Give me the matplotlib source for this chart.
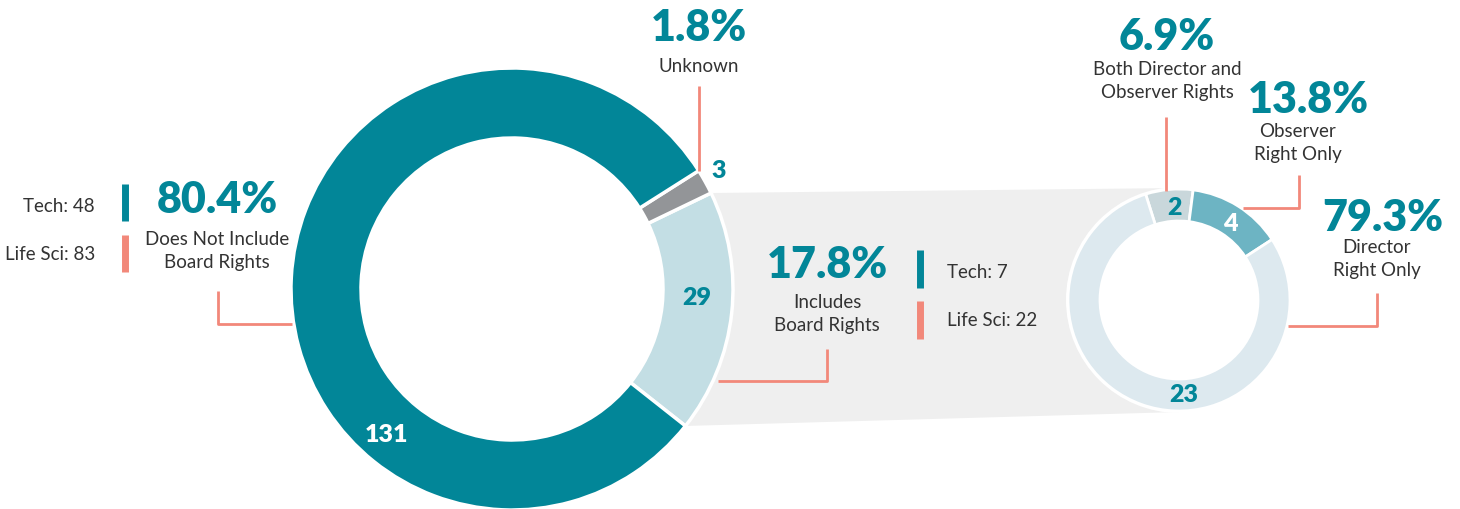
import numpy as np
import matplotlib.pyplot as plt
from matplotlib.patches import Polygon, Circle

# board rights split (count of deals)
main_labels = ["Includes\nBoard Rights", "Unknown", "Does Not Include\nBoard Rights"]
main_counts = [29, 3, 131]
main_colors = ["#c3dee4", "#939598", "#028698"]

# breakdown of deals that include board rights
sub_labels = ["Both Director and\nObserver Rights", "Observer\nRight Only", "Director\nRight Only"]
sub_counts = [2, 4, 23]
sub_colors = ["#c9d7db", "#6db4c3", "#dde9ef"]

# sector split
no_rights_sector = {"Tech": 48, "Life Sci": 83}
rights_sector = {"Tech": 7, "Life Sci": 22}

TEAL = "#028698"
SALMON = "#f2887a"
DARK = "#333333"
BAND = "#efefef"

plt.rcParams['font.family'] = ['Lato', 'DejaVu Sans']

W, H = 1460, 510
fig = plt.figure(figsize=(W / 100, H / 100), dpi=100)
ax = fig.add_axes([0, 0, 1, 1])


def Y(y):
    # work in top-down pixel rows
    return H - y


main_c = (512, Y(290))
main_r, main_w = 221, 70
sub_c = (1179, Y(301))
sub_r, sub_w = 111, 32
main_start = -38.3
sub_start = 107.5

main_total = sum(main_counts)
sub_total = sum(sub_counts)

# grey band linking the "includes" slice to the breakdown ring
a0 = np.deg2rad(main_start)
a1 = np.deg2rad(main_start + main_counts[0] / main_total * 360)
band = Polygon([
    (main_c[0] + main_r * np.cos(a1), main_c[1] + main_r * np.sin(a1)),
    (sub_c[0], sub_c[1] + sub_r + 1),
    (sub_c[0], sub_c[1] - sub_r - 1),
    (main_c[0] + main_r * np.cos(a0), main_c[1] + main_r * np.sin(a0)),
], closed=True, facecolor=BAND, edgecolor='none', zorder=0)
ax.add_patch(band)

ax.add_patch(Circle(sub_c, sub_r + 2, facecolor='white', edgecolor='none', zorder=1))

ax.pie(main_counts, colors=main_colors, center=main_c, radius=main_r,
       startangle=main_start, counterclock=True, frame=True,
       wedgeprops=dict(width=main_w, edgecolor='white', linewidth=2.5, zorder=2))
ax.pie(sub_counts, colors=sub_colors, center=sub_c, radius=sub_r,
       startangle=sub_start, counterclock=False, frame=True,
       wedgeprops=dict(width=sub_w, edgecolor='white', linewidth=2, zorder=2))

ax.set_xlim(0, W)
ax.set_ylim(0, H)
ax.set_aspect('equal')
ax.axis('off')


def pct(v, total):
    return f"{v / total * 100:.1f}%"


def big(x, y, s, ha='center'):
    ax.text(x, Y(y), s, ha=ha, va='center', fontsize=31, fontweight='heavy', color=TEAL)


def small(x, y, s, ha='center'):
    ax.text(x, Y(y), s, ha=ha, va='center', fontsize=13.5, color=DARK, linespacing=1.45)


def num(x, y, s, color=TEAL):
    ax.text(x, Y(y), s, ha='center', va='center', fontsize=18, fontweight='heavy', color=color, zorder=5)


def leader(pts):
    xs, ys = zip(*pts)
    ax.plot(xs, [Y(v) for v in ys], color=SALMON, lw=2, solid_capstyle='butt', zorder=4)


# does not include board rights
big(217, 200, pct(main_counts[2], main_total))
small(217, 251, main_labels[2])
leader([(218, 292), (218, 325), (292, 325)])
ax.plot([125, 125], [Y(185), Y(222)], color=TEAL, lw=5, solid_capstyle='butt')
ax.plot([125, 125], [Y(236), Y(273)], color=SALMON, lw=5, solid_capstyle='butt')
small(95, 207, f"Tech: {no_rights_sector['Tech']}", ha='right')
small(95, 254, f"Life Sci: {no_rights_sector['Life Sci']}", ha='right')

# unknown
big(699, 28, pct(main_counts[1], main_total))
small(699, 67, main_labels[1])
leader([(699, 87), (699, 172)])

# includes board rights
big(827, 265, pct(main_counts[0], main_total))
small(827, 314, main_labels[0])
leader([(718, 382), (827, 382), (827, 350)])
ax.plot([920, 920], [Y(251), Y(289)], color=TEAL, lw=5, solid_capstyle='butt')
ax.plot([920, 920], [Y(302), Y(340)], color=SALMON, lw=5, solid_capstyle='butt')
small(947, 273, f"Tech: {rights_sector['Tech']}", ha='left')
small(947, 320, f"Life Sci: {rights_sector['Life Sci']}", ha='left')

# ring counts
num(719, 171, str(main_counts[1]))
num(697, 298, str(main_counts[0]))
num(386, 435, str(main_counts[2]), color='white')
num(1174, 208, str(sub_counts[0]))
num(1230, 224, str(sub_counts[1]), color='white')
num(1184, 395, str(sub_counts[2]))

# breakdown labels
big(1167, 37, pct(sub_counts[0], sub_total))
small(1167, 81, sub_labels[0])
leader([(1166, 118), (1166, 192)])

big(1308, 100, pct(sub_counts[1], sub_total))
small(1298, 143, sub_labels[1])
leader([(1243, 209), (1299, 209), (1299, 176)])

big(1383, 218, pct(sub_counts[2], sub_total))
small(1377, 259, sub_labels[2])
leader([(1288, 327), (1377, 327), (1377, 294)])

fig.savefig("out.png", dpi=100, facecolor='white')
